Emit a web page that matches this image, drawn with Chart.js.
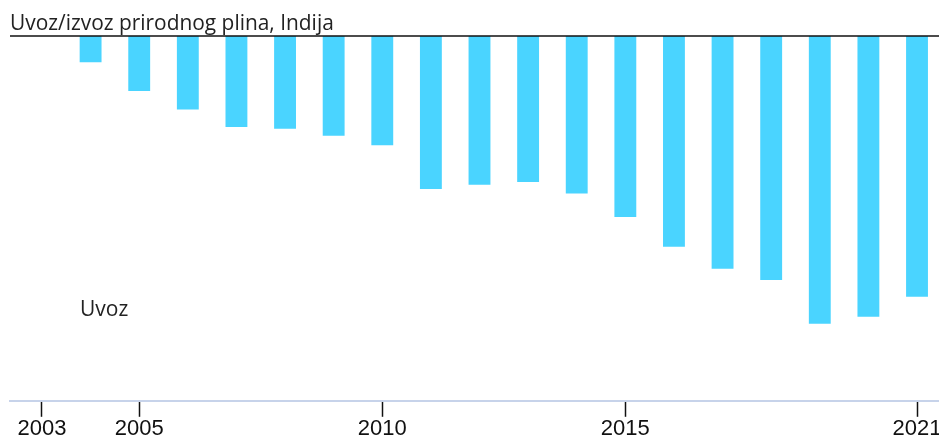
<!DOCTYPE html>
<html>
<head>
<meta charset="utf-8">
<script src="https://cdn.jsdelivr.net/npm/chart.js@4/dist/chart.umd.min.js"></script>
<style>
  body { margin: 0; background: #fff; overflow: hidden; }
  #wrap { width: 942px; height: 440px; }
</style>
</head>
<body>
<div id="wrap"><canvas id="gas_chart"></canvas></div>
<script>
// godine i uvoz plina (negativno = uvoz), procjena s grafa
const years = [2003, 2004, 2005, 2006, 2007, 2008, 2009, 2010, 2011, 2012,
               2013, 2014, 2015, 2016, 2017, 2018, 2019, 2020, 2021];
const imports = [null, -3.0, -6.3, -8.4, -10.4, -10.6, -11.4, -12.5, -17.5, -17.0,
                 -16.7, -18.0, -20.7, -24.1, -26.6, -27.9, -32.9, -32.1, -29.8];
const tickYears = [2003, 2005, 2010, 2015, 2021];
const chartTitle = 'Uvoz/izvoz prirodnog plina, Indija';
const seriesLabel = 'Uvoz';

const points = years.map((y, i) => ({ x: y, y: imports[i] }));

// naslov, oznaka i nulta linija
const extras = {
  id: 'extras',
  afterDatasetsDraw(chart) {
    const ctx = chart.ctx;
    const area = chart.chartArea;
    const y0 = chart.scales.y.getPixelForValue(0);
    ctx.save();
    ctx.fillStyle = '#222';
    ctx.font = '20.9px "Open Sans"';
    ctx.textBaseline = 'alphabetic';
    ctx.fillText(chartTitle, 10, 30);
    ctx.font = '21px "Open Sans"';
    ctx.fillText(seriesLabel, 80, 316);
    ctx.strokeStyle = '#111';
    ctx.lineWidth = 1.5;
    ctx.beginPath();
    ctx.moveTo(area.left, y0);
    ctx.lineTo(area.right, y0);
    ctx.stroke();
    ctx.restore();
  }
};

new Chart(document.getElementById('gas_chart'), {
  type: 'bar',
  data: {
    datasets: [{
      label: seriesLabel,
      data: points,
      backgroundColor: '#4ad4ff',
      barPercentage: 0.45,
      categoryPercentage: 1.0
    }]
  },
  options: {
    responsive: true,
    maintainAspectRatio: false,
    animation: false,
    layout: { padding: { top: 36, left: 10, right: 0, bottom: -1 } },
    plugins: { legend: { display: false }, tooltip: { enabled: false }, title: { display: false } },
    scales: {
      x: {
        type: 'linear',
        offset: false,
        min: 2002.342,
        max: 2021.514,
        afterBuildTicks: (scale) => { scale.ticks = tickYears.map(v => ({ value: v })); },
        ticks: {
          autoSkip: false,
          maxRotation: 0,
          padding: 0,
          color: '#111',
          font: { family: '"Liberation Sans", Arial', size: 22, lineHeight: 1.1 },
          callback: (v) => String(v)
        },
        grid: {
          offset: false,
          drawOnChartArea: false,
          drawTicks: true,
          tickLength: 16,
          tickWidth: 1.5,
          tickColor: '#111'
        },
        border: { color: '#c7d3ea', width: 2 }
      },
      y: {
        display: false,
        min: -41.7,
        max: 0
      }
    }
  },
  plugins: [extras]
});
</script>
</body>
</html>
